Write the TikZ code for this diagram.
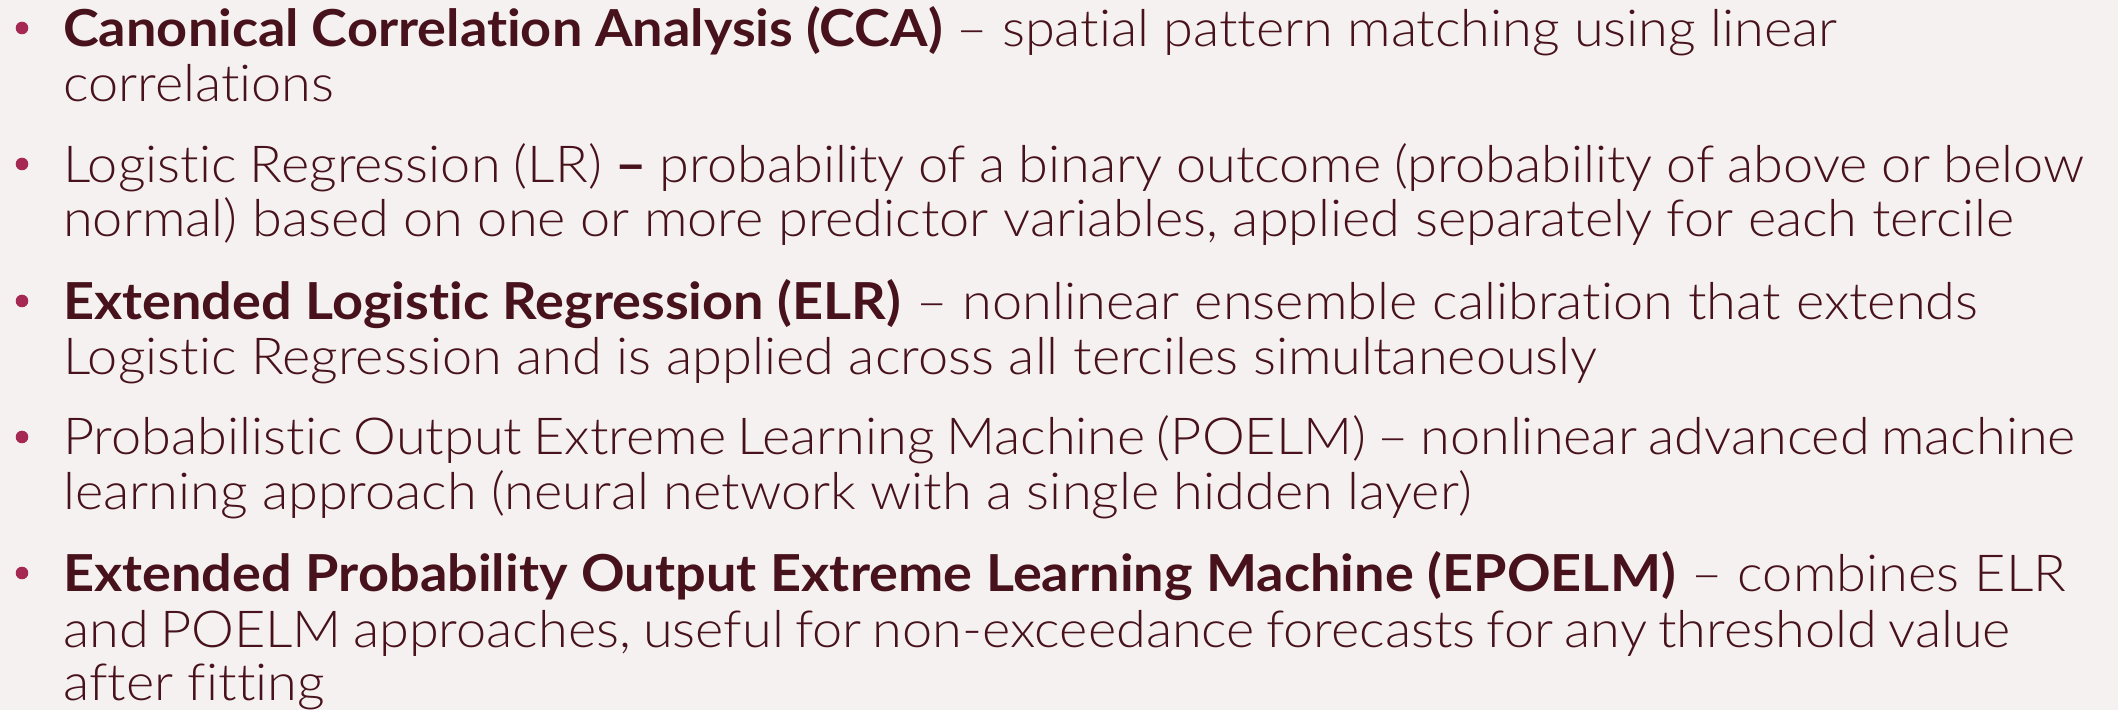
\documentclass[tikz,border=0pt]{standalone}
\usepackage{fontspec}
\setmainfont{Lato}[UprightFont={* Light}, BoldFont={* Bold}, FakeStretch=1.06, RawFeature={-liga;-dlig}]
\definecolor{ink}{RGB}{72,18,28}
\definecolor{bulletc}{RGB}{166,41,84}
\definecolor{bg}{RGB}{245,241,240}
% a line of text set to an exact width by its interword spaces
\newcommand{\fitline}[2]{\makebox[#1pt][s]{#2}}
\begin{document}
\begin{tikzpicture}[x=1pt,y=1pt,
  txt/.style={anchor=base west, inner sep=0pt, text=ink, font=\fontsize{51}{54}\selectfont},
  dot/.style={circle, fill=bulletc, minimum size=12.6pt, inner sep=0pt}]
\fill[bg] (0,0) rectangle (2118,710);
\useasboundingbox (0,0) rectangle (2118,710);
% bullets
\node[dot] (b1) at (22,682) {};
\node[dot] (b2) at (22,546) {};
\node[dot] (b3) at (22,409) {};
\node[dot] (b4) at (22,273) {};
\node[dot] (b5) at (22,137) {};
% item 1
\node[txt] (t1a) at (63,663.3) {\fitline{1774}{\textbf{Canonical Correlation Analysis (CCA)} – spatial pattern matching using linear}};
\node[txt] (t1b) at (63,608.3) {correlations};
% item 2
\node[txt] (t2a) at (63,527) {\fitline{2021}{Logistic Regression (LR) \textbf{–} probability of a binary outcome (probability of above or below}};
\node[txt] (t2b) at (63,473) {\fitline{1950}{normal) based on one or more predictor variables, applied separately for each tercile}};
% item 3
\node[txt] (t3a) at (63,390) {\fitline{1915}{\textbf{Extended Logistic Regression (ELR)} – nonlinear ensemble calibration that extends}};
\node[txt] (t3b) at (63,335) {\fitline{1534}{Logistic Regression and is applied across all terciles simultaneously}};
% item 4
\node[txt] (t4a) at (63,255) {\fitline{2012}{Probabilistic Output Extreme Learning Machine (POELM) – nonlinear advanced machine}};
\node[txt] (t4b) at (63,200) {\fitline{1408}{learning approach (neural network with a single hidden layer)}};
% item 5
\node[txt] (t5a) at (63,118) {\fitline{2003}{\textbf{Extended Probability Output Extreme Learning Machine (EPOELM)} – combines ELR}};
\node[txt] (t5b) at (63,63) {\fitline{1947}{and POELM approaches, useful for non-exceedance forecasts for any threshold value}};
\node[txt] (t5c) at (63,10) {after fitting};
\end{tikzpicture}
\end{document}
